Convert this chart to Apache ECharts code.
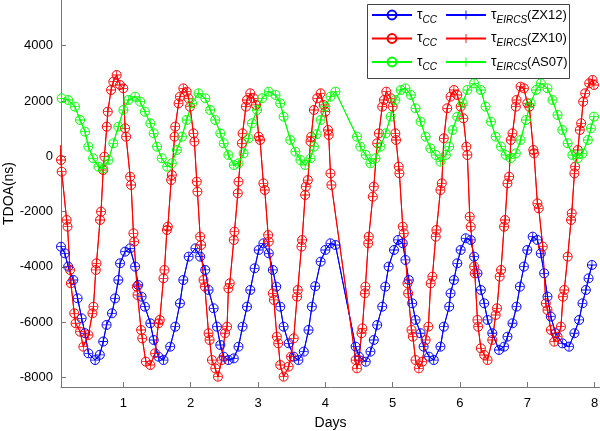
<!DOCTYPE html>
<html>
<head>
<meta charset="utf-8">
<script src="https://cdn.jsdelivr.net/npm/echarts@6/dist/echarts.min.js"></script>
<style>
  html, body { margin: 0; padding: 0; background: #fff; }
  #chart { width: 600px; height: 431px; }
</style>
</head>
<body>
<div id="chart"></div>
<script>
// [day, TDOA ns], one list per station
const zx12 = [
  [0.073,-3270],[0.13,-3510],[0.18,-3990],[0.256,-4475],[0.32,-5137],[0.38,-5860],[0.43,-6400],[0.48,-7126],
  [0.58,-7370],[0.65,-7180],[0.70,-6700],[0.75,-6100],[0.83,-5680],[0.876,-5140],[0.925,-4475],[0.95,-3870],
  [1.025,-3450],[1.10,-3330],[1.174,-3990],[1.22,-4655],[1.27,-5078],[1.32,-5440],[1.40,-6040],[1.45,-6645],
  [1.52,-7248],[1.595,-7370],[1.695,-6886],[1.77,-6163],[1.84,-5317],[1.89,-4475],[1.97,-3630],[2.07,-3330],
  [2.14,-3630],[2.216,-4112],[2.265,-4836],[2.34,-5498],[2.39,-6163],[2.44,-6825],[2.49,-7248],[2.56,-7370],
  [2.64,-7310],[2.71,-6886],[2.77,-6163],[2.836,-5440],[2.885,-4836],[2.95,-4051],[3.01,-3389],[3.08,-3147],
  [3.16,-3510],[3.22,-4112],[3.27,-4716],[3.33,-5440],[3.38,-6163],[3.455,-6765],[3.53,-7248],[3.60,-7370],
  [3.68,-7067],[3.75,-6283],[3.80,-5440],[3.85,-4700],[3.93,-3812],[4.00,-3389],[4.076,-3147],[4.15,-3208],
  [4.45,-6886],[4.50,-7248],[4.60,-7430],[4.67,-7067],[4.72,-6645],[4.77,-6100],[4.845,-5440],[4.89,-4716],
  [4.94,-3990],[5.02,-3389],[5.08,-3027],[5.15,-3147],[5.19,-3750],[5.24,-4475],[5.29,-5317],[5.34,-5920],
  [5.415,-6400],[5.46,-6886],[5.54,-7248],[5.61,-7370],[5.71,-6886],[5.76,-6163],[5.84,-5440],[5.86,-4955],
  [5.91,-4475],[5.96,-3870],[6.01,-3389],[6.085,-2966],[6.16,-3027],[6.21,-3630],[6.26,-4232],[6.31,-4836],
  [6.36,-5317],[6.41,-5920],[6.48,-6400],[6.58,-7006],[6.655,-6886],[6.705,-6525],[6.78,-6040],[6.84,-5440],
  [6.89,-4716],[6.95,-3990],[7.00,-3389],[7.08,-2907],[7.15,-3027],[7.20,-3510],[7.25,-4232],[7.30,-5078],
  [7.35,-5800],[7.42,-6400],[7.52,-6765],[7.62,-6886],[7.70,-6400],[7.77,-5920],[7.82,-5317],[7.87,-4836],
  [7.91,-4413],[7.96,-3932]
]

const zx10 = [
  [0.06,400],[0.073,-134],[0.083,-557],[0.157,-2304],[0.17,-2546],[0.207,-4112],[0.22,-4594],[0.27,-5680],[0.29,-6040],
  [0.356,-6344],[0.405,-6886],[0.48,-6464],[0.54,-5680],[0.555,-5440],[0.59,-4112],[0.60,-3870],[0.653,-2304],
  [0.668,-2003],[0.70,-496],[0.718,-14],[0.753,1072],[0.768,1614],[0.817,2398],[0.85,2700],[0.90,2940],
  [0.95,2579],[0.998,2458],[1.025,1012],[1.04,709],[1.10,-738],[1.115,-1038],[1.149,-2785],[1.16,-3088],
  [1.20,-4716],[1.21,-5017],[1.263,-6283],[1.28,-6585],[1.333,-7429],[1.40,-7550],[1.47,-7126],[1.52,-6040],
  [1.54,-5920],[1.595,-4413],[1.61,-4112],[1.646,-2666],[1.66,-2546],[1.71,-859],[1.72,-678],[1.76,709],
  [1.77,1072],[1.82,1917],[1.84,2157],[1.89,2458],[1.94,2337],[1.967,2098],[1.99,1795],[2.04,831],
  [2.055,530],[2.09,-918],[2.10,-1280],[2.14,-2907],[2.155,-3208],[2.19,-4475],[2.21,-4716],[2.265,-6400],
  [2.28,-6645],[2.315,-7370],[2.365,-7671],[2.405,-7972],[2.46,-7370],[2.51,-6400],[2.54,-6163],[2.56,-4776],
  [2.58,-4594],[2.64,-3027],[2.65,-2726],[2.70,-1340],[2.71,-918],[2.76,470],[2.77,831],[2.82,1795],
  [2.836,2036],[2.885,2278],[2.935,2098],[2.97,1856],[3.01,709],[3.03,590],[3.08,-978],[3.10,-1219],
  [3.15,-2846],[3.16,-3088],[3.22,-4957],[3.235,-5197],[3.28,-6525],[3.30,-6765],[3.33,-7550],[3.38,-7972],
  [3.455,-7610],[3.49,-7248],[3.53,-6585],[3.58,-5078],[3.59,-4836],[3.645,-3268],[3.655,-3027],[3.70,-1400],
  [3.71,-1098],[3.74,-859],[3.78,530],[3.79,709],[3.83,1675],[3.88,2098],[3.93,2278],[3.976,1856],
  [4.00,1614],[4.04,951],[4.05,770],[4.076,-617],[4.09,-1038],[4.45,-7370],[4.47,-7671],[4.50,-7370],
  [4.537,-6400],[4.55,-6223],[4.587,-4957],[4.595,-4716],[4.637,-3147],[4.645,-2907],[4.705,-1461],[4.72,-1098],
  [4.77,470],[4.795,831],[4.845,1795],[4.87,2036],[4.905,2337],[4.97,2098],[5.00,1795],[5.04,831],
  [5.05,590],[5.09,-376],[5.10,-617],[5.15,-2546],[5.165,-2785],[5.22,-4594],[5.23,-4957],[5.28,-6283],
  [5.30,-6525],[5.34,-7370],[5.39,-7671],[5.44,-7430],[5.49,-6645],[5.53,-6163],[5.565,-4594],[5.59,-4353],
  [5.64,-2907],[5.65,-2666],[5.71,-1219],[5.73,-978],[5.76,650],[5.81,1736],[5.86,2157],[5.91,2398],
  [5.96,2217],[6.01,1795],[6.05,1373],[6.095,348],[6.11,47],[6.145,-2184],[6.16,-2546],[6.21,-3990],
  [6.22,-4232],[6.26,-5920],[6.27,-6163],[6.31,-6946],[6.36,-7187],[6.41,-7370],[6.48,-6645],[6.53,-5740],
  [6.55,-5498],[6.59,-4353],[6.61,-4112],[6.655,-2546],[6.67,-2304],[6.705,-978],[6.73,-738],[6.755,590],
  [6.78,831],[6.83,1795],[6.84,2036],[6.90,2518],[6.95,2458],[7.00,1917],[7.03,1795],[7.09,228],
  [7.10,108],[7.15,-1702],[7.17,-1883],[7.23,-3268],[7.275,-5317],[7.30,-5559],[7.35,-6283],[7.40,-6705],
  [7.45,-6525],[7.50,-6163],[7.53,-5078],[7.55,-4836],[7.60,-3630],[7.65,-2304],[7.66,-2063],[7.70,-617],
  [7.71,-376],[7.75,228],[7.78,951],[7.80,1193],[7.83,1976],[7.86,2278],[7.92,2640],[7.97,2760],
  [7.99,2579]
]

const as07 = [
  [0.083,2098],[0.18,2036],[0.28,1795],[0.356,1313],[0.43,891],[0.48,348],[0.55,-72],[0.63,-376],
  [0.70,-437],[0.78,-134],[0.85,470],[0.925,1072],[1.00,1675],[1.074,2036],[1.174,2157],[1.25,1976],
  [1.32,1614],[1.40,1193],[1.45,831],[1.50,348],[1.57,-72],[1.65,-376],[1.72,-253],[1.795,228],
  [1.87,709],[1.94,1313],[2.02,1917],[2.116,2278],[2.216,2098],[2.29,1675],[2.365,1313],[2.44,831],
  [2.49,470],[2.56,47],[2.64,-315],[2.71,-253],[2.786,108],[2.86,651],[2.91,1193],[2.985,1675],
  [3.06,2098],[3.16,2337],[3.26,2217],[3.33,1917],[3.38,1433],[3.48,590],[3.555,167],[3.63,-134],
  [3.70,-315],[3.78,-72],[3.83,348],[3.87,800],[3.93,1313],[4.00,1795],[4.076,2157],[4.15,2337],
  [4.47,709],[4.52,348],[4.60,47],[4.67,-253],[4.745,-72],[4.82,348],[4.895,831],[4.97,1433],
  [5.04,2036],[5.12,2398],[5.19,2458],[5.27,2217],[5.34,1736],[5.415,1253],[5.49,709],[5.56,288],
  [5.64,47],[5.71,-193],[5.79,50],[5.84,348],[5.89,951],[5.96,1433],[6.04,1917],[6.11,2398],
  [6.21,2640],[6.31,2398],[6.38,1795],[6.46,1253],[6.53,709],[6.61,348],[6.68,47],[6.755,-72],
  [6.83,108],[6.90,590],[6.98,1313],[7.05,1917],[7.13,2398],[7.20,2640],[7.30,2458],[7.375,2036],
  [7.45,1494],[7.52,951],[7.60,470],[7.67,47],[7.75,-72],[7.82,108],[7.90,590],[7.945,1012],
  [7.99,1433]
]

const dayTicks = [1, 2, 3, 4, 5, 6, 7, 8]
const tdoaTicks = [-8000, -6000, -4000, -2000, 0, 2000, 4000]

const stations = [
  { key: '12', tag: '(ZX12)', color: '#0000ff', data: zx12 },
  { key: '10', tag: '(ZX10)', color: '#ff0000', data: zx10 },
  { key: '07', tag: '(AS07)', color: '#00ff00', data: as07 }
]

const plusPath = 'path://M0,4.5h10v1h-10z M4.5,0h1v10h-1z'
const font = '"Liberation Sans", Arial, Helvetica, sans-serif'

const series = []
const tags = {}
stations.forEach(st => {
  tags['cc' + st.key] = 'cc'
  tags['ei' + st.key] = st.tag
  series.push({
    name: 'cc' + st.key,
    type: 'line',
    data: st.data,
    symbol: 'circle',
    symbolSize: 9,
    showAllSymbol: true,
    lineStyle: { color: st.color, width: 1 },
    itemStyle: { color: 'rgba(255,255,255,0)', borderColor: st.color, borderWidth: 1 },
    z: 2
  })
  series.push({
    name: 'ei' + st.key,
    type: 'line',
    data: st.data,
    symbol: plusPath,
    symbolSize: 8,
    showAllSymbol: true,
    lineStyle: { color: st.color, width: 1 },
    itemStyle: { color: st.color, borderWidth: 0 },
    z: 2
  })
})

const legendRich = {
  t: { fontSize: 14, fontFamily: font, lineHeight: 20, verticalAlign: 'middle', color: '#000' },
  s: { fontSize: 10, fontFamily: font, fontStyle: 'italic', lineHeight: 9, verticalAlign: 'bottom', color: '#000' },
  n: { fontSize: 13, fontFamily: font, lineHeight: 20, verticalAlign: 'middle', color: '#000' }
}

function legendLabel(name) {
  const tag = tags[name]
  if (tag === 'cc') return '{t|τ}{s|CC}'
  return '{t|τ}{s|EIRCS}{n|' + tag + '}'
}

const rowY = [18, 41.5, 65]
const legends = stations.map((st, i) => ({
  data: ['cc' + st.key, 'ei' + st.key],
  orient: 'horizontal',
  left: 371,
  top: rowY[i] - 10,
  padding: 0,
  itemWidth: 40,
  itemHeight: 11,
  itemGap: 8,
  selectedMode: false,
  formatter: legendLabel,
  textStyle: { rich: legendRich },
  z: 5
}))

const chart = echarts.init(document.getElementById('chart'))
chart.setOption({
  animation: false,
  backgroundColor: '#fff',
  textStyle: { fontFamily: font },
  grid: { left: 61, right: 0, top: 0, bottom: 44, containLabel: false, outerBoundsMode: 'none' },
  legend: legends,
  graphic: [{
    type: 'rect',
    left: 367, top: 4, z: 4,
    shape: { width: 202, height: 74 },
    style: { fill: '#fff', stroke: '#444', lineWidth: 1 }
  }],
  xAxis: {
    type: 'value',
    min: 0.073,
    max: 8.08,
    name: 'Days',
    nameLocation: 'middle',
    nameGap: 29,
    nameMoveOverlap: false,
    nameTextStyle: { fontSize: 14, color: '#000', fontFamily: font },
    axisLine: { onZero: false, lineStyle: { color: '#777', width: 1 } },
    axisTick: { inside: true, length: 5, customValues: dayTicks, lineStyle: { color: '#777' } },
    axisLabel: { customValues: dayTicks, fontSize: 13, color: '#000', margin: 10, formatter: v => String(v) },
    splitLine: { show: false }
  },
  yAxis: {
    type: 'value',
    min: -8345,
    max: 5653,
    name: 'TDOA(ns)',
    nameLocation: 'middle',
    nameGap: 45,
    nameMoveOverlap: false,
    nameTextStyle: { fontSize: 14, color: '#000', fontFamily: font },
    axisLine: { show: true, onZero: false, lineStyle: { color: '#777', width: 1 } },
    axisTick: { show: true, inside: true, length: 5, customValues: tdoaTicks, lineStyle: { color: '#777' } },
    axisLabel: { customValues: tdoaTicks, fontSize: 13, color: '#000', margin: 8, formatter: v => String(v) },
    splitLine: { show: false }
  },
  series: series
})
</script>
</body>
</html>
